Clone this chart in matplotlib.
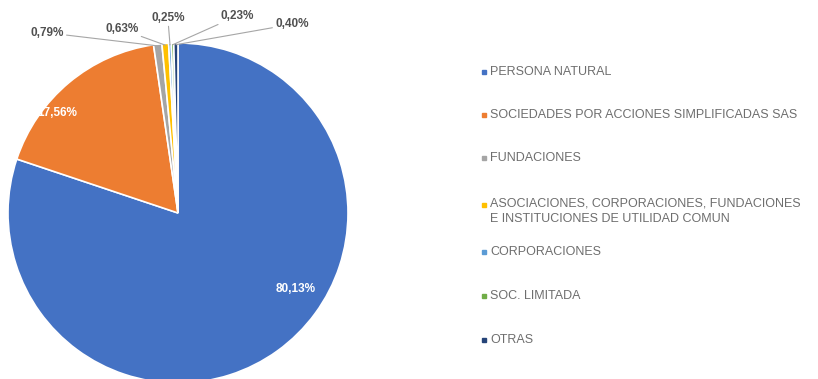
import matplotlib
matplotlib.use('Agg')
import matplotlib.pyplot as plt
import numpy as np

categories = [
    "PERSONA NATURAL",
    "SOCIEDADES POR ACCIONES SIMPLIFICADAS SAS",
    "FUNDACIONES",
    "ASOCIACIONES, CORPORACIONES, FUNDACIONES\nE INSTITUCIONES DE UTILIDAD COMUN",
    "CORPORACIONES",
    "SOC. LIMITADA",
    "OTRAS",
]
shares = [80.13, 17.56, 0.79, 0.63, 0.25, 0.23, 0.40]
colors = ['#4472C4', '#ED7D31', '#A5A5A5', '#FFC000', '#5B9BD5', '#70AD47', '#264478']

# label positions (pie radius = 1, centre at origin)
inside_pos = {0: (0.69, -0.45), 1: (-0.71, 0.59)}
outside_pos = {2: (-0.77, 1.06), 3: (-0.33, 1.08), 4: (-0.06, 1.15),
               5: (0.35, 1.16), 6: (0.67, 1.11)}

plt.rcParams['font.family'] = ['Liberation Sans', 'DejaVu Sans']

fig = plt.figure(figsize=(8.18, 3.79), dpi=100)
ax = fig.add_axes([0, 0, 1, 1])

wedges, _ = ax.pie(shares, colors=colors, startangle=90, counterclock=False,
                   radius=1.0, wedgeprops=dict(edgecolor='white', linewidth=1.2))

# pie centre at (178, 213) px, radius 170 px
ax.set_xlim(-178 / 170, 640 / 170)
ax.set_ylim((213 - 379) / 170, 213 / 170)
ax.set_aspect('equal')
ax.axis('off')

def fmt(v):
    return f"{v:.2f}%".replace('.', ',')

for i, w in enumerate(wedges):
    mid = np.deg2rad((w.theta1 + w.theta2) / 2)
    if i in inside_pos:
        ax.text(*inside_pos[i], fmt(shares[i]), color='white', fontsize=8.5,
                fontweight='bold', ha='center', va='center')
    else:
        ax.annotate(fmt(shares[i]), xy=(np.cos(mid) * 0.99, np.sin(mid) * 0.99),
                    xytext=outside_pos[i], color='#505050', fontsize=8.5,
                    fontweight='bold', ha='center', va='center',
                    arrowprops=dict(arrowstyle='-', color='#A6A6A6', lw=0.8,
                                    shrinkA=0, shrinkB=0))

# legend drawn by hand so the two-line entry keeps its marker on the first line
leg_y = [72, 115, 158, 205, 252, 296, 340]
for cat, col, py in zip(categories, colors, leg_y):
    yf = 1 - py / 379
    fig.patches.append(plt.Rectangle((482 / 818, yf - 2 / 379), 4 / 818, 4 / 379,
                                     transform=fig.transFigure, color=col))
    if '\n' in cat:
        fig.text(490 / 818, yf + 7 / 379, cat, fontsize=9, color='#6E6E6E',
                 va='top', linespacing=1.35)
    else:
        fig.text(490 / 818, yf, cat, fontsize=9, color='#6E6E6E', va='center')

fig.savefig('out.png', dpi=100, facecolor='white')
